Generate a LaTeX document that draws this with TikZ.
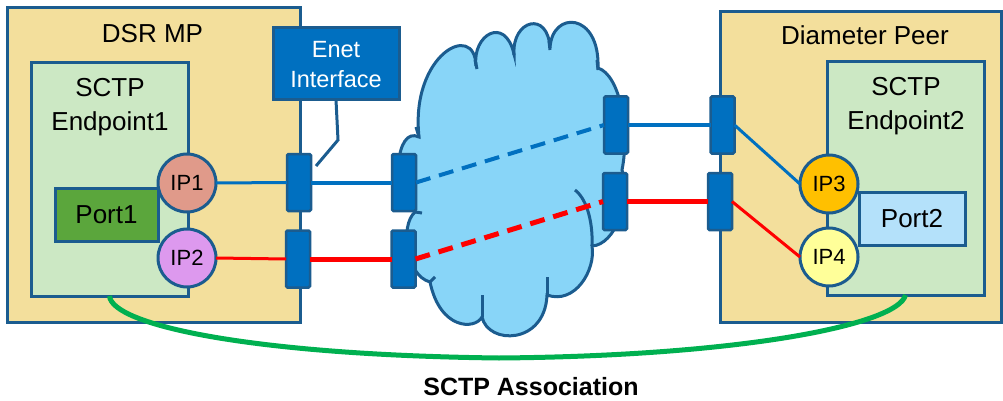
\documentclass[tikz,border=0pt]{standalone}
\usepackage{fontspec}
\setmainfont{Liberation Sans}
\definecolor{tanc}{HTML}{F3DF9C}
\definecolor{epgreen}{HTML}{CCE8C4}
\definecolor{dkblue}{HTML}{1B5C8F}
\definecolor{pblue}{HTML}{0070C0}
\definecolor{pgreen}{HTML}{5BA63C}
\definecolor{ipa}{HTML}{E09A8A}
\definecolor{ipb}{HTML}{DD99EE}
\definecolor{ipc}{HTML}{FFC000}
\definecolor{ipd}{HTML}{FFFF99}
\definecolor{ptwo}{HTML}{B4E1FA}
\definecolor{cloudc}{HTML}{88D5F8}
\definecolor{assoc}{HTML}{00B050}
\definecolor{redc}{HTML}{FF0000}
\begin{document}
\begin{tikzpicture}[x=1pt,y=-1pt,
  rbox/.style={draw=dkblue, line width=3pt, inner sep=0pt, outer sep=0pt},
  ttl/.style={font=\fontsize{26}{34}\selectfont, inner sep=0pt, align=center},
  ipnode/.style={circle, draw=dkblue, line width=3pt, minimum size=58, inner sep=0pt, outer sep=0pt, font=\fontsize{22}{26}\selectfont},
  portbox/.style={draw=dkblue, fill=pblue, line width=2.5pt, minimum width=24, minimum height=57, rounded corners=1.5pt, inner sep=0pt, outer sep=0pt},
  cloudline/.style={draw=dkblue, line width=3pt},
  bthin/.style={draw=pblue, line width=3pt},
  bthick/.style={draw=pblue, line width=4pt},
  rthin/.style={draw=redc, line width=3pt},
  rthick/.style={draw=redc, line width=5pt},
  dashy/.style={dash pattern=on 15pt off 9pt}
]
\useasboundingbox (0,0) rectangle (1003,401);

% outer boxes
\node[rbox, fill=tanc, minimum width=293, minimum height=314] (dsr) at (153.5,165) {};
\node[rbox, fill=tanc, minimum width=281, minimum height=310] (peer) at (860.5,167) {};
\node[ttl, anchor=base] (dsrt) at (152.5,43) {DSR MP};
\node[ttl, anchor=base] (peert) at (865,45) {Diameter Peer};

% endpoint boxes
\node[rbox, fill=epgreen, minimum width=157, minimum height=233] (ep1) at (109.5,179.5) {};
\node[rbox, fill=epgreen, minimum width=157, minimum height=233] (ep2) at (905.5,178.5) {};
\node[ttl, anchor=north] (ep1t) at (110,78) {SCTP\\Endpoint1};
\node[ttl, anchor=north] (ep2t) at (906,77) {SCTP\\Endpoint2};

% port boxes
\node[rbox, fill=pgreen, minimum width=103, minimum height=53, font=\fontsize{26}{30}\selectfont] (port1) at (106.5,214.5) {Port1};
\node[rbox, fill=ptwo, minimum width=106, minimum height=53, font=\fontsize{26}{30}\selectfont] (port2) at (912,218.5) {Port2};

% cloud
\draw[cloudline, fill=cloudc] (419,137) .. controls (410,55) and (475,20) .. (476,66)
 .. controls (472,35) and (505,15) .. (514,54)
 .. controls (512,20) and (548,10) .. (550,48)
 .. controls (552,10) and (600,12) .. (598,68)
 .. controls (620,75) and (630,130) .. (622,170)
 .. controls (632,200) and (615,245) .. (592,246)
 .. controls (596,270) and (575,305) .. (547,295)
 .. controls (545,345) and (488,345) .. (482,317)
 .. controls (475,330) and (440,330) .. (430,282)
 .. controls (405,275) and (400,225) .. (415,212)
 .. controls (390,195) and (395,125) .. (419,137) -- cycle;
\draw[cloudline] (575,190) .. controls (588,200) and (593,225) .. (592,246);
\draw[cloudline] (547,277) -- (547,295);
\draw[cloudline] (482,295) -- (482,317);
\draw[cloudline] (430,282) -- (435,277);
\draw[cloudline] (415,212) -- (422,213);
\draw[cloudline] (475,60) -- (477,69);
\draw[cloudline] (513,46) -- (514,55);
\draw[cloudline] (549,41) -- (550,50);
\draw[cloudline] (597,60) -- (598,70);
\draw[cloudline] (416,127) -- (419,137);

% interface ports
\node[portbox] (pA) at (299,182.5) {};
\node[portbox] (pB) at (298,259) {};
\node[portbox] (pC) at (404,182.5) {};
\node[portbox] (pD) at (403.5,259) {};
\node[portbox] (pE) at (616,125) {};
\node[portbox] (pF) at (615,201.5) {};
\node[portbox] (pG) at (722.5,125) {};
\node[portbox] (pH) at (720,201.5) {};

% IP circles
\node[ipnode, fill=ipa] (ip1) at (187,183) {IP1};
\node[ipnode, fill=ipb] (ip2) at (187,258) {IP2};
\node[ipnode, fill=ipc] (ip3) at (829,184) {IP3};
\node[ipnode, fill=ipd] (ip4) at (829,257) {IP4};

% blue path
\draw[bthin] (ip1.east) -- (pA.west);
\draw[bthick] (pA.east) -- (pC.west);
\draw[bthick, dashy] (pC.east) -- (pE.west);
\draw[bthick] (pE.east) -- (pG.west);
\draw[bthin] (pG.east) -- (ip3.west);

% red path
\draw[rthin] (ip2.east) -- (pB.west);
\draw[rthick] (pB.east) -- (pD.west);
\draw[rthick, dashy] (pD.east) -- (pF.west);
\draw[rthick] (pF.east) -- (pH.west);
\draw[rthin] (pH.east) -- (ip4.west);

% Enet interface callout
\node[rbox, fill=pblue, minimum width=126, minimum height=72] (enet) at (336,64) {};
\node[ttl, anchor=north, text=white, font=\fontsize{23.5}{30}\selectfont] (enett) at (336,41) {Enet\\Interface};
\coordinate (k1) at (338,140);
\coordinate (k2) at (316,166);
\draw[dkblue, line width=3pt] (enet.south) -- (k1) -- (k2);

% association arc
\coordinate (amid) at (499,358);
\draw[assoc, line width=5pt] (ep1.south) .. controls (112,325) and (250,355) .. (amid)
  .. controls (740,356) and (898,325) .. (ep2.south);
\node[inner sep=0pt, anchor=base, font=\fontsize{25}{30}\bfseries\selectfont] (assoct) at (531,395) {SCTP Association};
\end{tikzpicture}
\end{document}
